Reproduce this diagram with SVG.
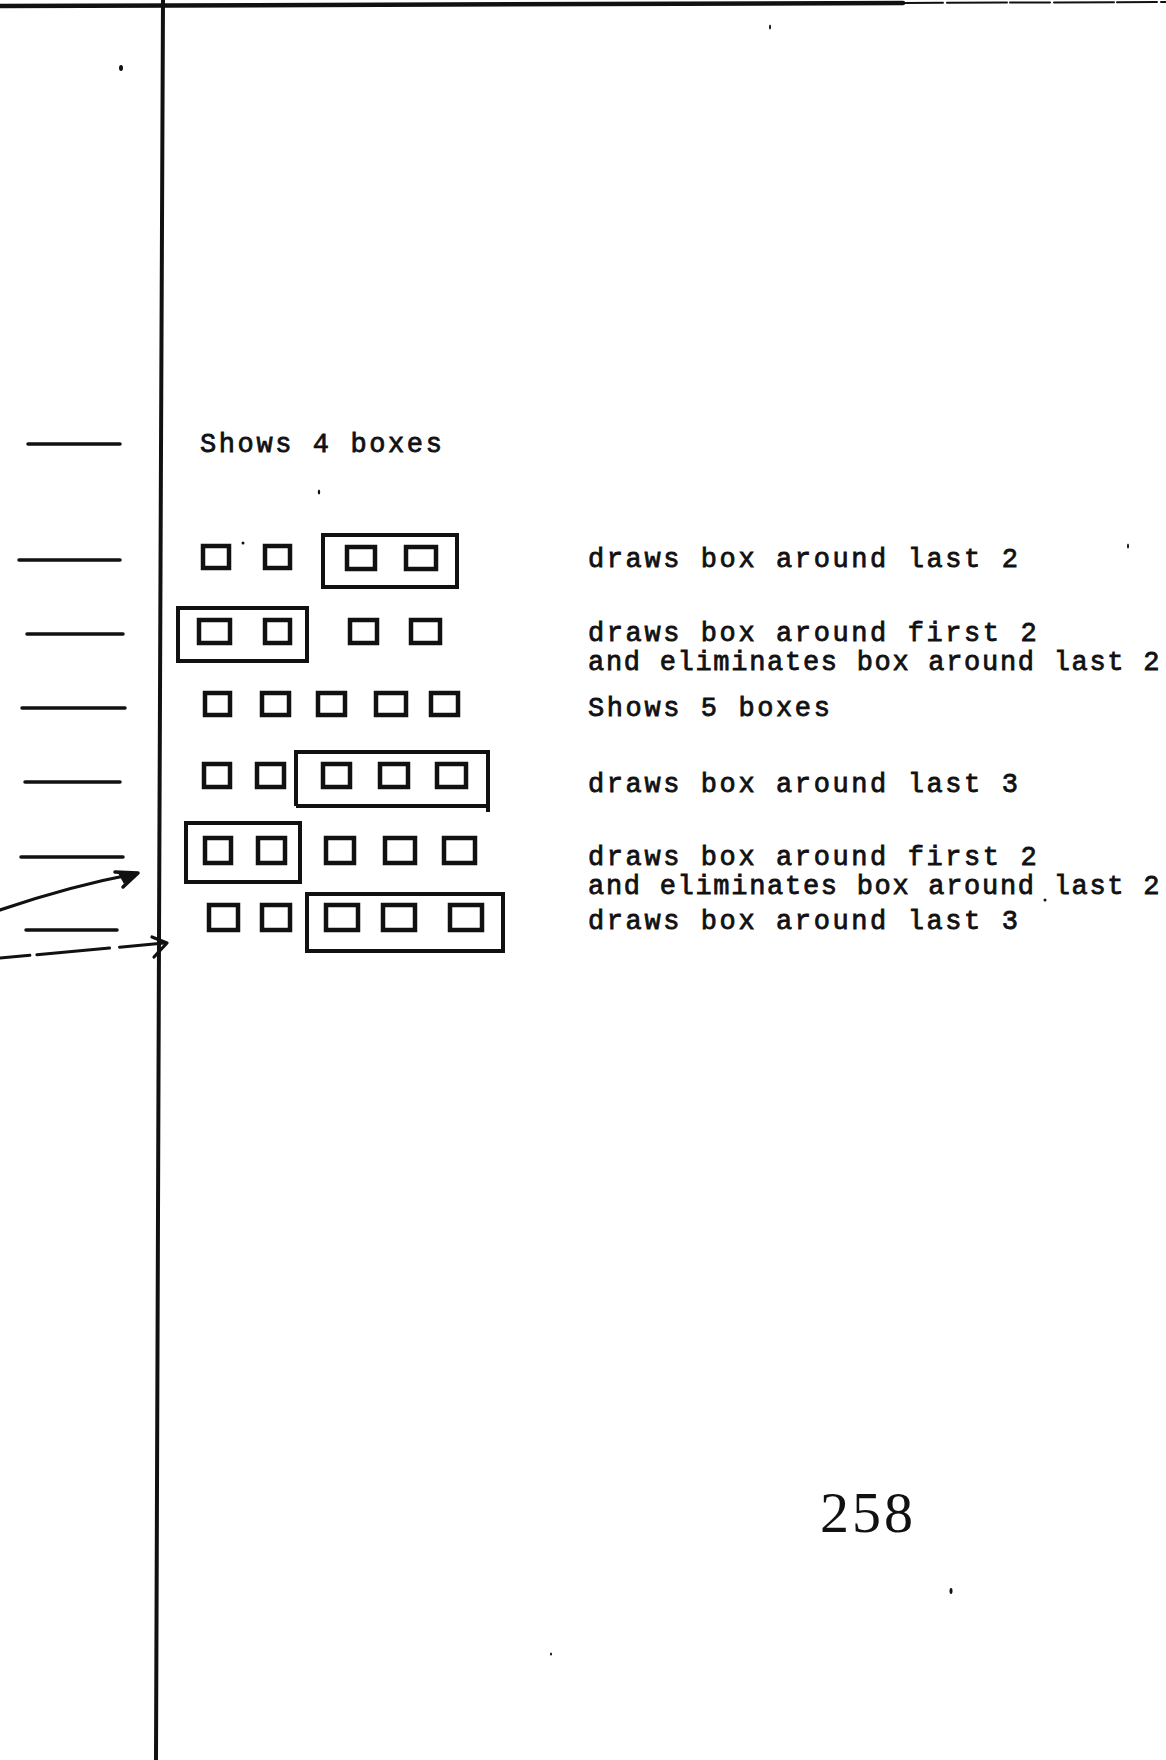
<svg xmlns="http://www.w3.org/2000/svg" width="1166" height="1760" viewBox="0 0 1166 1760">
<style>
  .bg{fill:#ffffff}
  .ink{stroke:#111;fill:none;stroke-linecap:round;stroke-linejoin:round}
  .sq{stroke:#111;fill:none;stroke-width:4.5;stroke-linejoin:miter}
  .bx{stroke:#111;fill:none;stroke-width:4;stroke-linejoin:miter}
  .dash{stroke:#111;stroke-width:3.5;stroke-linecap:round}
  .tt{font-family:"Liberation Mono","DejaVu Sans Mono",monospace;font-size:27px;letter-spacing:2.6px;fill:#111;stroke:#111;stroke-width:0.8}
  .pg{font-family:"Liberation Serif","DejaVu Serif",serif;font-size:58px;letter-spacing:3px;fill:#111}
  .speck{fill:#111}
</style>
<rect class="bg" x="0" y="0" width="1166" height="1760"/>

<!-- page rules -->
<g id="frame">
  <path class="ink" d="M0,6 L903,3" stroke-width="4.5"/>
  <path class="ink" d="M903,3 L1166,2" stroke-width="2" stroke-dasharray="40 4 60 3"/>
  <path class="ink" d="M163,0 L161,450 L159,940 L156,1760" stroke-width="4"/>
</g>

<!-- connectors: left margin dashes and arrows -->
<g id="connectors">
  <line class="dash" x1="28" y1="444" x2="120" y2="444"/>
  <line class="dash" x1="19" y1="560" x2="120" y2="560"/>
  <line class="dash" x1="27" y1="634" x2="123" y2="634"/>
  <line class="dash" x1="22" y1="708" x2="125" y2="708"/>
  <line class="dash" x1="25" y1="782" x2="120" y2="782"/>
  <line class="dash" x1="21" y1="857" x2="123" y2="857"/>
  <line class="dash" x1="26" y1="930" x2="117" y2="930"/>
  <path class="ink" d="M0,910 Q70,886 134,874" stroke-width="3.2"/>
  <path class="ink" d="M115,872 L138,873 L123,887" stroke-width="3.5"/>
  <polygon points="138,873 118,873 124,884" fill="#111"/>
  <path class="ink" d="M0,958 L165,943" stroke-width="3" stroke-dasharray="30 7 73 10 45 0"/>
  <path class="ink" d="M152,937 L167,943 L154,957" stroke-width="3.2"/>
</g>

<g id="label-shows4">
  <text class="tt" x="200" y="452">Shows 4 boxes</text>
</g>

<g id="row1">
  <rect class="sq" x="203" y="546" width="26" height="22"/>
  <rect class="sq" x="265" y="546" width="25" height="22"/>
  <rect class="bx" x="323" y="535" width="134" height="52"/>
  <rect class="sq" x="347" y="547" width="28" height="22"/>
  <rect class="sq" x="406" y="547" width="30" height="22"/>
  <text class="tt" x="588" y="567">draws box around last 2</text>
</g>

<g id="row2">
  <rect class="bx" x="178" y="608" width="129" height="53"/>
  <rect class="sq" x="199" y="620" width="31" height="23"/>
  <rect class="sq" x="265" y="620" width="25" height="23"/>
  <rect class="sq" x="350" y="620" width="27" height="23"/>
  <rect class="sq" x="411" y="620" width="29" height="23"/>
  <text class="tt" x="588" y="641">draws box around first 2</text>
  <text class="tt" x="588" y="670" textLength="574" lengthAdjust="spacing">and eliminates box around last 2</text>
</g>

<g id="row3">
  <rect class="sq" x="205" y="693" width="25" height="22"/>
  <rect class="sq" x="262" y="693" width="27" height="22"/>
  <rect class="sq" x="318" y="693" width="27" height="22"/>
  <rect class="sq" x="376" y="693" width="30" height="22"/>
  <rect class="sq" x="431" y="693" width="27" height="22"/>
  <text class="tt" x="588" y="716">Shows 5 boxes</text>
</g>

<g id="row4">
  <path class="bx" d="M296,806 L296,752 L488,752 L488,812 M296,806 L486,806"/>
  <rect class="sq" x="204" y="764" width="26" height="23"/>
  <rect class="sq" x="257" y="764" width="27" height="23"/>
  <rect class="sq" x="323" y="764" width="27" height="23"/>
  <rect class="sq" x="380" y="764" width="28" height="23"/>
  <rect class="sq" x="437" y="764" width="29" height="23"/>
  <text class="tt" x="588" y="792">draws box around last 3</text>
</g>

<g id="row5">
  <rect class="bx" x="186" y="823" width="114" height="59"/>
  <rect class="sq" x="205" y="838" width="26" height="25"/>
  <rect class="sq" x="258" y="838" width="27" height="25"/>
  <rect class="sq" x="326" y="838" width="28" height="25"/>
  <rect class="sq" x="385" y="838" width="30" height="25"/>
  <rect class="sq" x="444" y="838" width="31" height="25"/>
  <text class="tt" x="588" y="865">draws box around first 2</text>
  <text class="tt" x="588" y="894" textLength="574" lengthAdjust="spacing">and eliminates box around last 2</text>
</g>

<g id="row6">
  <rect class="bx" x="307" y="894" width="196" height="57"/>
  <rect class="sq" x="209" y="905" width="29" height="25"/>
  <rect class="sq" x="262" y="905" width="28" height="25"/>
  <rect class="sq" x="326" y="905" width="32" height="25"/>
  <rect class="sq" x="383" y="905" width="32" height="25"/>
  <rect class="sq" x="450" y="905" width="32" height="25"/>
  <text class="tt" x="588" y="929">draws box around last 3</text>
</g>

<g id="page-number">
  <text class="pg" x="820" y="1532">258</text>
</g>

<g id="specks">
  <ellipse class="speck" cx="121" cy="68" rx="2" ry="3"/>
  <ellipse class="speck" cx="770" cy="27" rx="1" ry="2.5"/>
  <ellipse class="speck" cx="243" cy="543" rx="1.5" ry="1.5"/>
  <ellipse class="speck" cx="319" cy="492" rx="1.2" ry="2.5"/>
  <ellipse class="speck" cx="1128" cy="546" rx="1" ry="2.5"/>
  <ellipse class="speck" cx="1045" cy="900" rx="1.5" ry="1.5"/>
  <ellipse class="speck" cx="951" cy="1591" rx="1.5" ry="3"/>
  <ellipse class="speck" cx="551" cy="1654" rx="1" ry="1.5"/>
</g>
</svg>
